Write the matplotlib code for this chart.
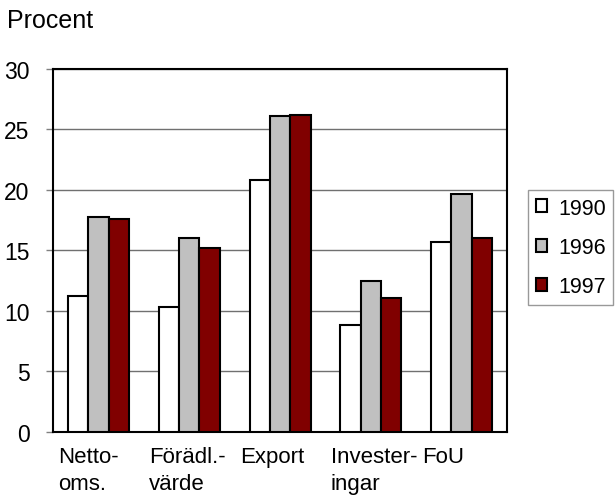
import numpy as np
import matplotlib
matplotlib.use("Agg")
import matplotlib.pyplot as plt
from matplotlib.patches import Patch

plt.rcParams['font.family'] = ['Liberation Sans', 'DejaVu Sans']

# data
kategorier = ["Netto-\noms.", "Förädl.-\nvärde", "Export", "Invester-\ningar", "FoU"]
ar = ["1990", "1996", "1997"]
v1990 = [11.2, 10.3, 20.8, 8.8, 15.7]
v1996 = [17.8, 16.0, 26.1, 12.5, 19.7]
v1997 = [17.6, 15.2, 26.2, 11.1, 16.0]
farger = ["#ffffff", "#c0c0c0", "#800000"]
yticks = [0, 5, 10, 15, 20, 25, 30]

fig = plt.figure(figsize=(6.15, 5.02), dpi=100)
ax = fig.add_axes([0.0862, 0.1375, 0.7382, 0.7231])

x = np.arange(len(kategorier))
w = 0.224
for i, (vals, c) in enumerate(zip([v1990, v1996, v1997], farger)):
    ax.bar(x + (i - 1) * w, vals, width=w, color=c, edgecolor="black",
           linewidth=1.5, zorder=3)

ax.set_xlim(-0.5, len(kategorier) - 0.5)
ax.set_ylim(0, 30)
ax.set_yticks(yticks)
ax.yaxis.grid(True, color="#707070", linewidth=1.0, zorder=0)
ax.tick_params(axis="y", direction="out", length=5, width=1, pad=12,
               labelsize=16.5, color="#808080")
# labels are left aligned, starting a bit left of each group
ax.set_xticks(x - 0.44)
ax.set_xticklabels(kategorier, fontsize=16, ha="left", multialignment="left",
                   linespacing=1.4)
ax.tick_params(axis="x", length=0, pad=10)
for s in ax.spines.values():
    s.set_linewidth(1.5)
    s.set_color("black")

fig.text(7 / 615, 1 - 9 / 502, "Procent", fontsize=18, va="top", ha="left")

handles = [Patch(facecolor=c, edgecolor="black", linewidth=1.5) for c in farger]
leg = fig.legend(handles, ar, loc="upper left", bbox_to_anchor=(528 / 615, 1 - 191 / 502),
                 fontsize=15.5, frameon=True, fancybox=False, handlelength=0.55,
                 handleheight=0.55, handletextpad=0.5, labelspacing=0.85,
                 borderpad=0.35, borderaxespad=0)
leg.get_frame().set_edgecolor("#808080")
leg.get_frame().set_linewidth(1.0)

fig.savefig("out.png", dpi=100)
